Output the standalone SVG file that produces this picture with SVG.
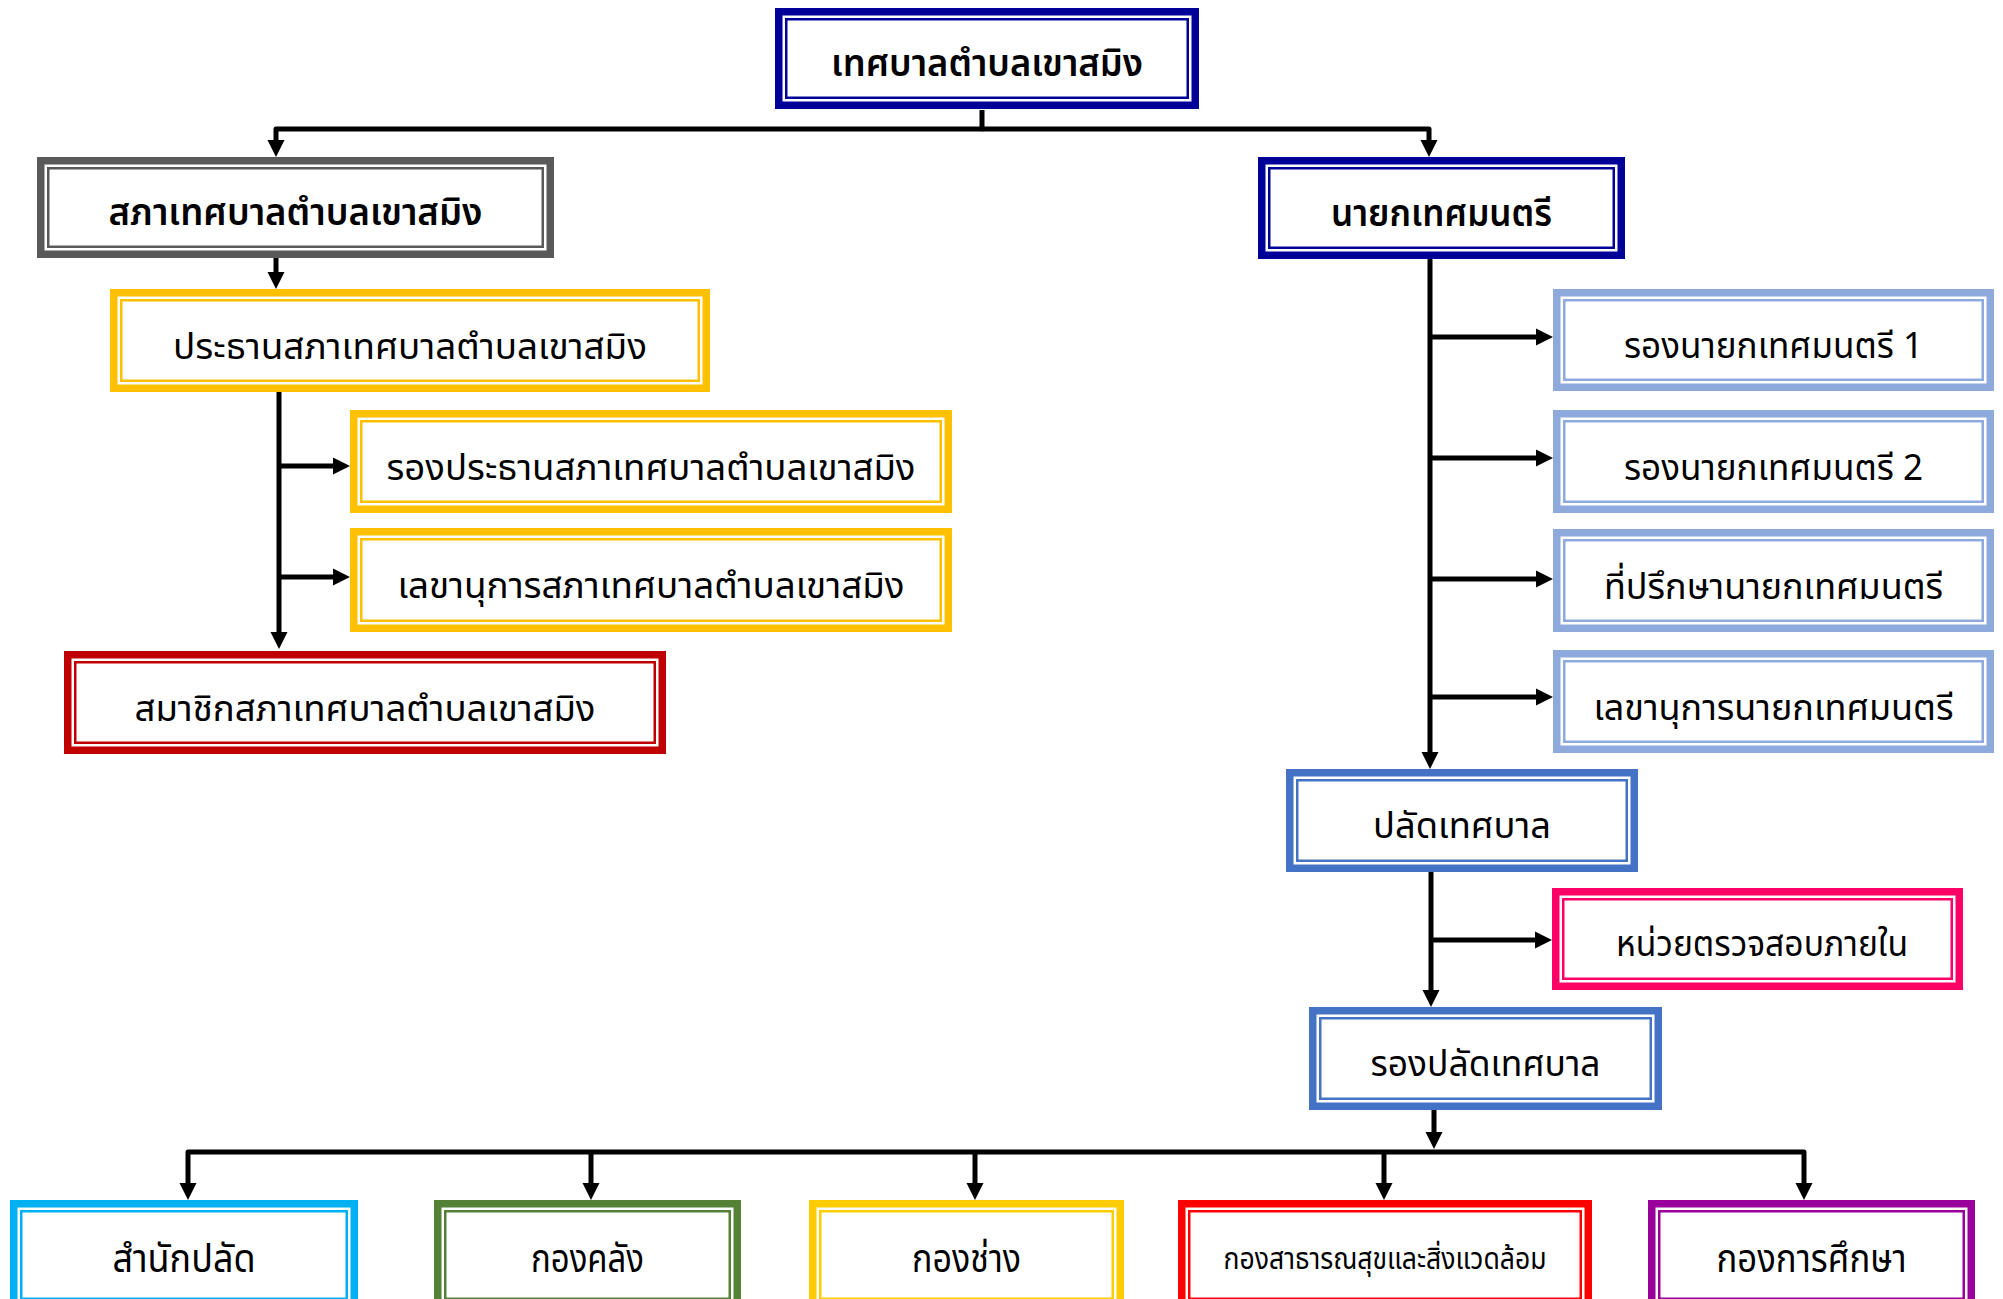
<svg xmlns="http://www.w3.org/2000/svg" width="2003" height="1299" viewBox="0 0 2003 1299">
<defs>
<style>
.node rect{fill:none}
.node .o{stroke-width:7.5}
.node .i{stroke-width:2.5}
.node text{stroke:none;fill:#000;font-family:"Noto Sans Thai","Leelawadee UI",Tahoma,"Noto Sans","DejaVu Sans",sans-serif;text-anchor:middle}
.b text{font-weight:600;font-size:38px}
.r text{font-size:36px}
.s text{font-size:40px}
.navy{stroke:#000099}.gray{stroke:#595959}.gold{stroke:#FFC000}.dred{stroke:#C00000}
.lblue{stroke:#8EA9DB}.blue{stroke:#4472C4}.pink{stroke:#FF0066}.cyan{stroke:#00B0F0}
.green{stroke:#538135}.yel{stroke:#FFCC00}.red{stroke:#FF0000}.purple{stroke:#990099}
.conn path{fill:none;stroke:#000;stroke-width:5;stroke-linejoin:round}
.conn .a{marker-end:url(#arr)}
</style>
<marker id="arr" markerUnits="userSpaceOnUse" markerWidth="17" markerHeight="17" refX="9" refY="8.5" orient="auto" overflow="visible">
<path d="M0,0 L17,8.5 L0,17 z" fill="#000"/>
</marker>
</defs>
<rect width="2003" height="1299" fill="#fff"/>

<g id="connectors" class="conn">
<path class="a" d="M982,110 V129 H276 V149"/>
<path class="a" d="M982,129 H1429 V149"/>
<path class="a" d="M276,258 V281"/>
<path class="a" d="M279,392 V641"/>
<path class="a" d="M279,466 H342"/>
<path class="a" d="M279,577 H342"/>
<path class="a" d="M1430,259 V761"/>
<path class="a" d="M1430,337 H1545"/>
<path class="a" d="M1430,458 H1545"/>
<path class="a" d="M1430,579 H1545"/>
<path class="a" d="M1430,697 H1545"/>
<path class="a" d="M1431,872 V999"/>
<path class="a" d="M1431,940 H1544"/>
<path class="a" d="M1434,1110 V1141"/>
<path class="a" d="M1000,1152 H188 V1192"/>
<path class="a" d="M1000,1152 H1804 V1192"/>
<path class="a" d="M591,1152 V1192"/>
<path class="a" d="M975,1152 V1192"/>
<path class="a" d="M1384,1152 V1192"/>
</g>

<g id="n-top" class="node b navy">
<rect class="o" x="778.75" y="11.75" width="416.5" height="93.5"/>
<rect class="i" x="786.25" y="19.25" width="401.5" height="78.5"/>
<text x="987" y="76" textLength="312" lengthAdjust="spacingAndGlyphs">เทศบาลตำบลเขาสมิง</text>
</g>
<g id="n-council" class="node b gray">
<rect class="o" x="40.75" y="160.75" width="509.5" height="93.5"/>
<rect class="i" x="48.25" y="168.25" width="494.5" height="78.5"/>
<text x="295.5" y="225" textLength="374" lengthAdjust="spacingAndGlyphs">สภาเทศบาลตำบลเขาสมิง</text>
</g>
<g id="n-mayor" class="node b navy">
<rect class="o" x="1261.75" y="160.75" width="359.5" height="94.5"/>
<rect class="i" x="1269.25" y="168.25" width="344.5" height="79.5"/>
<text x="1441.5" y="226" textLength="221" lengthAdjust="spacingAndGlyphs">นายกเทศมนตรี</text>
</g>
<g id="n-chair" class="node r gold">
<rect class="o" x="113.75" y="292.75" width="592.5" height="95.5"/>
<rect class="i" x="121.25" y="300.25" width="577.5" height="80.5"/>
<text x="410" y="359" textLength="474" lengthAdjust="spacingAndGlyphs">ประธานสภาเทศบาลตำบลเขาสมิง</text>
</g>
<g id="n-vicechair" class="node r gold">
<rect class="o" x="353.75" y="413.75" width="594.5" height="95.5"/>
<rect class="i" x="361.25" y="421.25" width="579.5" height="80.5"/>
<text x="651" y="480" textLength="529" lengthAdjust="spacingAndGlyphs">รองประธานสภาเทศบาลตำบลเขาสมิง</text>
</g>
<g id="n-councilsec" class="node r gold">
<rect class="o" x="353.75" y="531.75" width="594.5" height="96.5"/>
<rect class="i" x="361.25" y="539.25" width="579.5" height="81.5"/>
<text x="651" y="598" textLength="507" lengthAdjust="spacingAndGlyphs">เลขานุการสภาเทศบาลตำบลเขาสมิง</text>
</g>
<g id="n-members" class="node r dred">
<rect class="o" x="67.75" y="654.75" width="594.5" height="95.5"/>
<rect class="i" x="75.25" y="662.25" width="579.5" height="80.5"/>
<text x="365" y="721" textLength="461" lengthAdjust="spacingAndGlyphs">สมาชิกสภาเทศบาลตำบลเขาสมิง</text>
</g>
<g id="n-deputy1" class="node r lblue">
<rect class="o" x="1556.75" y="292.75" width="433.5" height="94.5"/>
<rect class="i" x="1564.25" y="300.25" width="418.5" height="79.5"/>
<text x="1773.5" y="358" textLength="299" lengthAdjust="spacingAndGlyphs">รองนายกเทศมนตรี 1</text>
</g>
<g id="n-deputy2" class="node r lblue">
<rect class="o" x="1556.75" y="413.75" width="433.5" height="95.5"/>
<rect class="i" x="1564.25" y="421.25" width="418.5" height="80.5"/>
<text x="1773.5" y="480" textLength="299" lengthAdjust="spacingAndGlyphs">รองนายกเทศมนตรี 2</text>
</g>
<g id="n-advisor" class="node r lblue">
<rect class="o" x="1556.75" y="532.75" width="433.5" height="95.5"/>
<rect class="i" x="1564.25" y="540.25" width="418.5" height="80.5"/>
<text x="1773.5" y="599" textLength="339" lengthAdjust="spacingAndGlyphs">ที่ปรึกษานายกเทศมนตรี</text>
</g>
<g id="n-mayorsec" class="node r lblue">
<rect class="o" x="1556.75" y="653.75" width="433.5" height="95.5"/>
<rect class="i" x="1564.25" y="661.25" width="418.5" height="80.5"/>
<text x="1773.5" y="720" textLength="360" lengthAdjust="spacingAndGlyphs">เลขานุการนายกเทศมนตรี</text>
</g>
<g id="n-clerk" class="node r blue">
<rect class="o" x="1289.75" y="772.75" width="344.5" height="95.5"/>
<rect class="i" x="1297.25" y="780.25" width="329.5" height="80.5"/>
<text x="1462" y="838" textLength="178" lengthAdjust="spacingAndGlyphs">ปลัดเทศบาล</text>
</g>
<g id="n-audit" class="node r pink">
<rect class="o" x="1555.75" y="891.75" width="403.5" height="94.5"/>
<rect class="i" x="1563.25" y="899.25" width="388.5" height="79.5"/>
<text x="1762" y="956" textLength="292" lengthAdjust="spacingAndGlyphs">หน่วยตรวจสอบภายใน</text>
</g>
<g id="n-deputyclerk" class="node r blue">
<rect class="o" x="1312.75" y="1010.75" width="345.5" height="95.5"/>
<rect class="i" x="1320.25" y="1018.25" width="330.5" height="80.5"/>
<text x="1485.5" y="1076" textLength="230" lengthAdjust="spacingAndGlyphs">รองปลัดเทศบาล</text>
</g>
<g id="n-office" class="node s cyan">
<rect class="o" x="13.75" y="1203.75" width="340.5" height="102.5"/>
<rect class="i" x="21.25" y="1211.25" width="325.5" height="87.5"/>
<text x="184" y="1272" textLength="143" lengthAdjust="spacingAndGlyphs">สำนักปลัด</text>
</g>
<g id="n-finance" class="node s green">
<rect class="o" x="437.75" y="1203.75" width="299.5" height="102.5"/>
<rect class="i" x="445.25" y="1211.25" width="284.5" height="87.5"/>
<text x="587.5" y="1272" textLength="113" lengthAdjust="spacingAndGlyphs">กองคลัง</text>
</g>
<g id="n-works" class="node s yel">
<rect class="o" x="812.75" y="1203.75" width="307.5" height="102.5"/>
<rect class="i" x="820.25" y="1211.25" width="292.5" height="87.5"/>
<text x="966.5" y="1272" textLength="109" lengthAdjust="spacingAndGlyphs">กองช่าง</text>
</g>
<g id="n-health" class="node s red">
<rect class="o" x="1181.75" y="1203.75" width="406.5" height="102.5"/>
<rect class="i" x="1189.25" y="1211.25" width="391.5" height="87.5"/>
<text x="1385" y="1269" style="font-size:30px" textLength="323" lengthAdjust="spacingAndGlyphs">กองสาธารณสุขและสิ่งแวดล้อม</text>
</g>
<g id="n-education" class="node s purple">
<rect class="o" x="1651.75" y="1203.75" width="319.5" height="102.5"/>
<rect class="i" x="1659.25" y="1211.25" width="304.5" height="87.5"/>
<text x="1811.5" y="1272" textLength="190" lengthAdjust="spacingAndGlyphs">กองการศึกษา</text>
</g>
</svg>
